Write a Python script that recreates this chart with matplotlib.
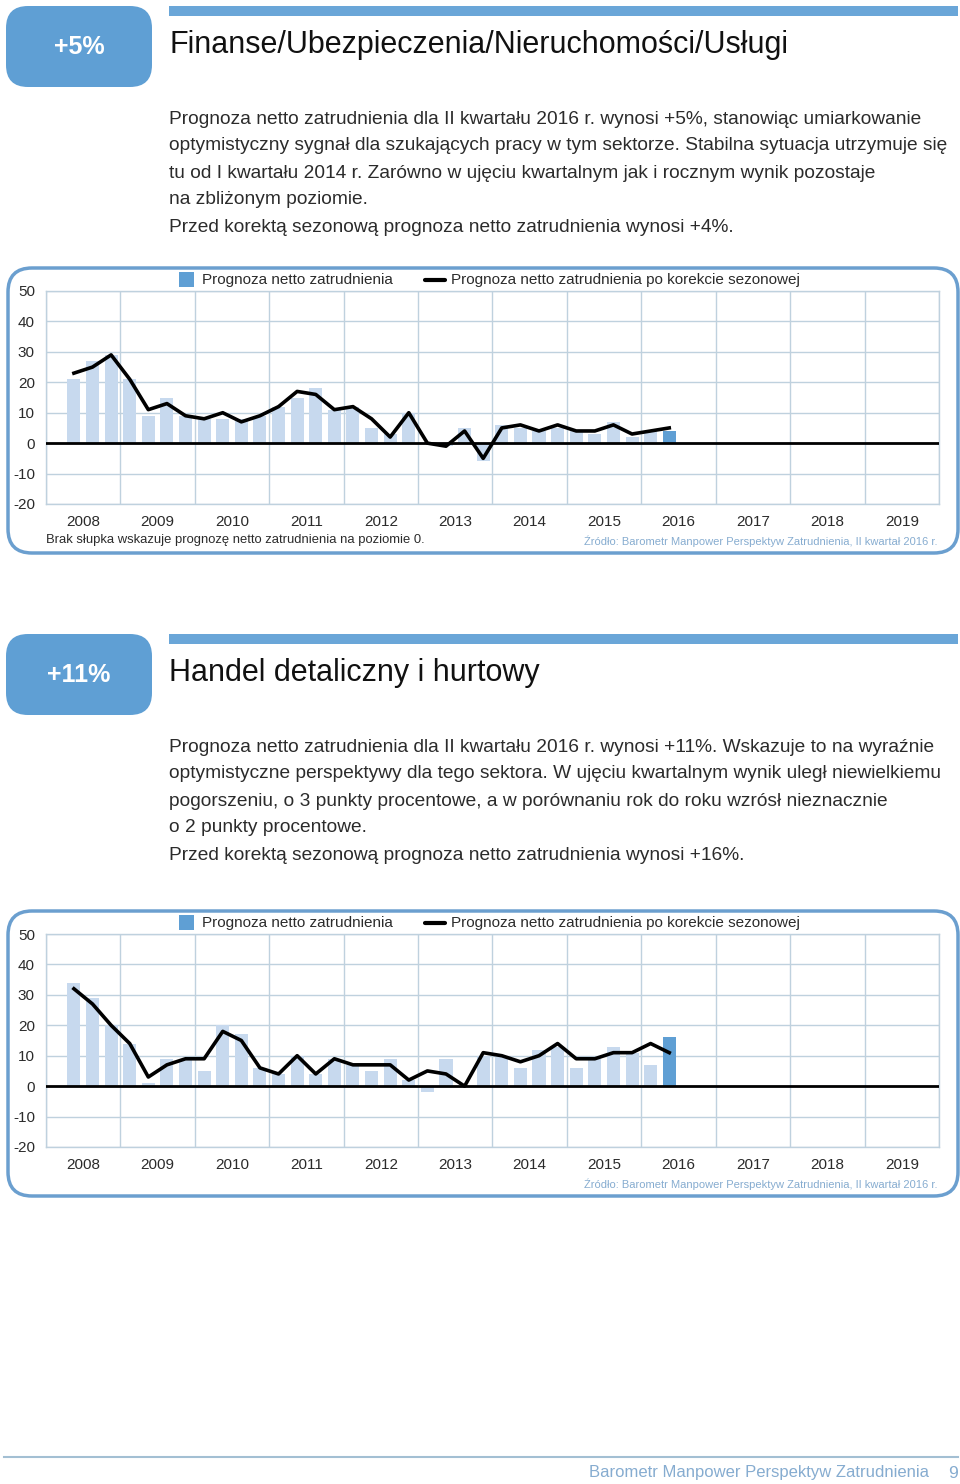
import matplotlib

matplotlib.use("Agg")
import matplotlib.pyplot as plt
from matplotlib.patches import FancyBboxPatch, Rectangle
from matplotlib.lines import Line2D

plt.rcParams["font.family"] = ["Liberation Sans", "DejaVu Sans"]

W, H = 960, 1484

# x axis: one column per quarter, 2008 Q1 .. 2019 Q4; data starts at 2008 Q2
years = list(range(2008, 2020))
first_quarter = 1  # 2008 Q2

# Finanse/Ubezpieczenia/Nieruchomości/Usługi, 2008 Q2 .. 2016 Q2
fin_bars = [21, 27, 29, 21, 9, 15, 9, 8, 8, 8, 9, 12, 15, 18, 11, 12, 5,
            3, 10, 0, -1, 5, -6, 6, 5, 4, 5, 4, 3, 7, 2, 4, 4]
fin_line = [23, 25, 29, 21, 11, 13, 9, 8, 10, 7, 9, 12, 17, 16, 11, 12, 8,
            2, 10, 0, -1, 4, -5, 5, 6, 4, 6, 4, 4, 6, 3, 4, 5]

# Handel detaliczny i hurtowy, 2008 Q2 .. 2016 Q2
trade_bars = [34, 29, 20, 14, 1, 9, 9, 5, 20, 17, 6, 4, 10, 4, 9, 7, 5,
              9, 2, -2, 9, 0, 10, 10, 6, 12, 13, 6, 9, 13, 11, 7, 16]
trade_line = [32, 27, 20, 14, 3, 7, 9, 9, 18, 15, 6, 4, 10, 4, 9, 7, 7,
              7, 2, 5, 4, 0, 11, 10, 8, 10, 14, 9, 9, 11, 11, 14, 11]

y_ticks = [-20, -10, 0, 10, 20, 30, 40, 50]

BLUE = "#5f9fd4"
BAND = "#6aa6d8"
FRAME = "#6b9fcf"
LIGHT = "#c7d9ee"
GRID = "#bfd1de"
TEXT = "#2b2b2b"
SRC = "#86acd0"

fig = plt.figure(figsize=(W / 100, H / 100), dpi=100)
bg = fig.add_axes([0, 0, 1, 1])
bg.set_xlim(0, W)
bg.set_ylim(H, 0)
bg.axis("off")


def px_rect(x0, y0, x1, y1):
    return [x0 / W, 1 - y1 / H, (x1 - x0) / W, (y1 - y0) / H]


def header(top, value, title, lines):
    bg.add_patch(FancyBboxPatch((6, top + 6), 146, 81,
                                boxstyle="round,pad=0,rounding_size=22",
                                fc=BLUE, ec="none"))
    bg.text(79, top + 47, value, color="white", fontsize=18,
            fontweight="bold", ha="center", va="center")
    bg.add_patch(Rectangle((169, top + 6), 789, 10, fc=BAND, ec="none"))
    bg.text(169, top + 45, title, fontsize=22, va="center", color="#111111")
    for i, s in enumerate(lines):
        bg.text(169, top + 119 + 27 * i, s, fontsize=13.8, va="center", color=TEXT)


def chart(top, bars, line, note=None):
    bg.add_patch(FancyBboxPatch((8, top), 950, 285,
                                boxstyle="round,pad=0,rounding_size=24",
                                fc="none", ec=FRAME, lw=2.5))
    # legend
    bg.add_patch(Rectangle((179, top + 4), 15, 15, fc=BLUE, ec="none"))
    bg.text(202, top + 12, "Prognoza netto zatrudnienia", fontsize=11,
            va="center", color=TEXT)
    bg.add_line(Line2D([425, 445], [top + 12, top + 12], color="black",
                       lw=3, solid_capstyle="round"))
    bg.text(451, top + 12, "Prognoza netto zatrudnienia po korekcie sezonowej",
            fontsize=11, va="center", color=TEXT)

    ax = fig.add_axes(px_rect(46, top + 23, 939, top + 236))
    ax.set_facecolor("none")
    n = len(bars)
    x = list(range(first_quarter, first_quarter + n))
    colors = [LIGHT] * (n - 1) + [BLUE]
    ax.bar(x, bars, width=0.7, color=colors, zorder=2)
    ax.plot(x, line, color="black", lw=2.6, zorder=4, solid_joinstyle="round")
    ax.axhline(0, color="black", lw=2, zorder=3)

    nq = 4 * len(years)
    ax.set_xlim(-0.5, nq - 0.5)
    ax.set_ylim(-20, 50)
    ax.set_xticks([4 * i - 0.5 for i in range(len(years) + 1)])
    ax.set_xticklabels([])
    ax.set_xticks([4 * i + 1.5 for i in range(len(years))], minor=True)
    ax.set_xticklabels([str(y) for y in years], minor=True)
    ax.set_yticks(y_ticks)
    ax.set_yticklabels([str(v) for v in y_ticks])
    ax.tick_params(which="both", length=0, labelsize=11, colors=TEXT)
    ax.tick_params(axis="x", which="minor", pad=8)
    ax.tick_params(axis="y", pad=8)
    ax.grid(True, which="major", color=GRID, lw=1, zorder=0)
    ax.set_axisbelow(True)
    for sp in ax.spines.values():
        sp.set_color(GRID)
        sp.set_linewidth(1)

    if note:
        bg.text(46, top + 272, note, fontsize=9.4, va="center", color=TEXT)
    bg.text(938, top + 273,
            "Źródło: Barometr Manpower Perspektyw Zatrudnienia, II kwartał 2016 r.",
            fontsize=8, va="center", ha="right", color=SRC)


header(0, "+5%", "Finanse/Ubezpieczenia/Nieruchomości/Usługi", [
    "Prognoza netto zatrudnienia dla II kwartału 2016 r. wynosi +5%, stanowiąc umiarkowanie",
    "optymistyczny sygnał dla szukających pracy w tym sektorze. Stabilna sytuacja utrzymuje się",
    "tu od I kwartału 2014 r. Zarówno w ujęciu kwartalnym jak i rocznym wynik pozostaje",
    "na zbliżonym poziomie.",
    "Przed korektą sezonową prognoza netto zatrudnienia wynosi +4%.",
])
chart(268, fin_bars, fin_line,
      note="Brak słupka wskazuje prognozę netto zatrudnienia na poziomie 0.")

header(628, "+11%", "Handel detaliczny i hurtowy", [
    "Prognoza netto zatrudnienia dla II kwartału 2016 r. wynosi +11%. Wskazuje to na wyraźnie",
    "optymistyczne perspektywy dla tego sektora. W ujęciu kwartalnym wynik uległ niewielkiemu",
    "pogorszeniu, o 3 punkty procentowe, a w porównaniu rok do roku wzrósł nieznacznie",
    "o 2 punkty procentowe.",
    "Przed korektą sezonową prognoza netto zatrudnienia wynosi +16%.",
])
chart(911, trade_bars, trade_line)

# footer
bg.add_line(Line2D([4, 958], [1457, 1457], color="#a3bfd3", lw=1.5))
bg.text(589, 1473, "Barometr Manpower Perspektyw Zatrudnienia", fontsize=12,
        va="center", color=SRC)
bg.text(953, 1473, "9", fontsize=12.5, va="center", ha="center", color=SRC)

fig.savefig("out.png", dpi=100)
